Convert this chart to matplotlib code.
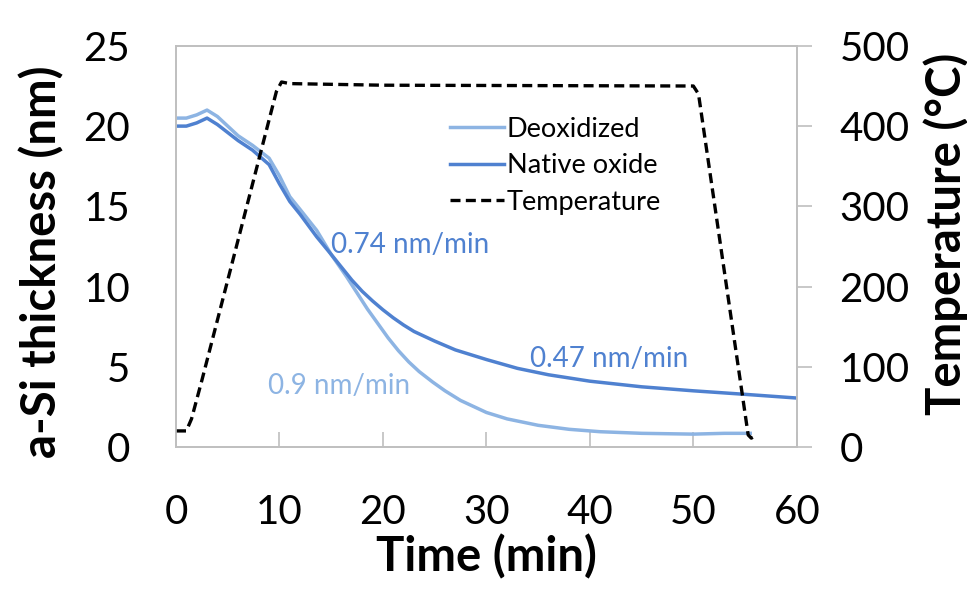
import matplotlib
matplotlib.use("Agg")
import matplotlib.pyplot as plt

plt.rcParams['font.family'] = ['Lato', 'DejaVu Sans']

# thickness traces (time in min, thickness in nm)
deox_time = [0, 1, 2, 3, 4, 5, 6, 7.4, 9, 10, 11, 12, 13.6, 15, 16.5, 17.5,
             18.5, 19.5, 20.5, 21.5, 22.5, 23.5, 24.8, 26, 27.5, 30, 32, 35,
             38, 41, 45, 50, 53, 55.5]
deox_thick = [20.5, 20.5, 20.7, 21.0, 20.6, 20.0, 19.4, 18.8, 18.0, 16.9, 15.6,
              14.8, 13.5, 12.0, 10.6, 9.6, 8.6, 7.7, 6.8, 6.0, 5.3, 4.7, 4.05,
              3.5, 2.9, 2.15, 1.75, 1.35, 1.1, 0.95, 0.85, 0.8, 0.85, 0.85]

native_time = [0, 1, 2, 3, 4, 5, 6, 7.4, 9, 10, 11, 12, 13.6, 15, 16.5, 17, 18,
               19, 20, 21, 22, 23, 24, 25, 27, 30, 33, 36, 40, 45, 50, 55, 60]
native_thick = [20.0, 20.0, 20.2, 20.5, 20.1, 19.6, 19.1, 18.5, 17.6, 16.4, 15.3,
                14.5, 13.1, 12.0, 10.8, 10.4, 9.7, 9.1, 8.55, 8.05, 7.6, 7.2, 6.9,
                6.6, 6.05, 5.45, 4.9, 4.5, 4.1, 3.75, 3.5, 3.28, 3.05]

# furnace temperature (°C)
temp_time = [0, 1.0, 1.5, 2.5, 9.7, 10.2, 11, 20, 50, 50.5, 55.3, 55.6, 56]
temp_vals = [20, 20, 35, 83, 443, 455, 453, 451, 450, 440, 15, 11, 14]

x_ticks = [0, 10, 20, 30, 40, 50, 60]
y_ticks = [0, 5, 10, 15, 20, 25]
t_ticks = [0, 100, 200, 300, 400, 500]

light_blue = '#8db4e3'
mid_blue = '#4f81d0'
grey = '#bfbfbf'

fig = plt.figure(figsize=(9.67, 6.04), dpi=100)
ax = fig.add_axes([0.182, 0.260, 0.642, 0.664])
ax2 = ax.twinx()

l1, = ax.plot(deox_time, deox_thick, color=light_blue, lw=2.5, label='Deoxidized')
l2, = ax.plot(native_time, native_thick, color=mid_blue, lw=2.5, label='Native oxide')
l3, = ax2.plot(temp_time, temp_vals, color='black', lw=2.4,
               linestyle=(0, (3, 1.6)), label='Temperature')

ax.set_xlim(0, 60)
ax.set_ylim(0, 25)
ax2.set_ylim(0, 500)
ax.set_xticks(x_ticks)
ax.set_yticks(y_ticks)
ax2.set_yticks(t_ticks)

for a in (ax, ax2):
    for s in a.spines.values():
        s.set_color(grey)
        s.set_linewidth(1.2)

ax.tick_params(axis='x', direction='in', length=10.8, width=1.2, color=grey,
               labelsize=29, pad=34)
ax.tick_params(axis='y', length=0, labelsize=29, pad=33)
ax2.tick_params(axis='y', direction='out', length=10.8, width=1.2, color=grey,
                labelsize=29, pad=20)

ax.set_xlabel('Time (min)', fontsize=34, fontweight='bold', labelpad=2)
fig.text(42 / 967, 1 - 262 / 604, 'a-Si thickness (nm)', rotation=90,
         fontsize=34, fontweight='bold', ha='center', va='center')
fig.text(946 / 967, 1 - 234 / 604, 'Temperature (°C)', rotation=90,
         fontsize=34, fontweight='bold', ha='center', va='center')

# etch-rate annotations
ax.text(15.0, 12.6, '0.74 nm/min', color=mid_blue, fontsize=20, va='center')
ax.text(34.2, 5.5, '0.47 nm/min', color=mid_blue, fontsize=20, va='center')
ax.text(8.9, 3.8, '0.9 nm/min', color=light_blue, fontsize=20, va='center')

ax2.legend(handles=[l1, l2, l3], loc='upper left', bbox_to_anchor=(0.441, 0.823),
           frameon=False, fontsize=19.5, handlelength=2.0, handletextpad=0.1,
           labelspacing=0.42, borderpad=0, borderaxespad=0)

fig.savefig('out.png', dpi=100)
